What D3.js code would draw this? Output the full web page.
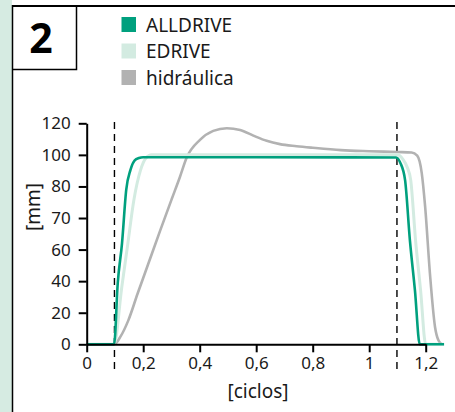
<!DOCTYPE html>
<html lang="es">
<head>
<meta charset="utf-8">
<title>Ciclos</title>
<script src="https://cdn.jsdelivr.net/npm/d3@7"></script>
<style>
    body { margin: 0; background: #fff; }
    svg { display: block; font-family: "Noto Sans", sans-serif; }
</style>
</head>
<body>
<div id="chart"></div>

<script type="text/javascript">
// values
var seriesNames = ["hidráulica", "EDRIVE", "ALLDRIVE"];

var hydX = [0, 0.097, 0.12, 0.147, 0.18, 0.218, 0.26, 0.301, 0.33, 0.354, 0.401, 0.448, 0.496, 0.543, 0.59, 0.637, 0.684, 0.743, 0.8, 0.9, 1.0, 1.1, 1.15, 1.17, 1.186, 1.198, 1.215, 1.233, 1.245, 1.257];
var hydY = [0, 0, 5, 15, 32, 51, 66, 76, 86, 98.3, 109.5, 115.2, 116.9, 115.8, 112.2, 108.9, 106.8, 105.5, 104.5, 103, 102.3, 101.8, 101.5, 99.5, 88.4, 73.6, 44.8, 11, 2.5, 0];

var edrX = [0, 0.097, 0.124, 0.145, 0.167, 0.19, 0.21, 0.23, 0.6, 1.1, 1.12, 1.135, 1.147, 1.164, 1.182, 1.2, 1.265];
var edrY = [0, 0, 36, 61.5, 75.7, 90, 98, 100, 100, 100, 97, 92, 84, 63, 34, 0, 0];

var allX = [0, 0.097, 0.11, 0.125, 0.14, 0.155, 0.17, 0.185, 0.2, 0.6, 1.095, 1.11, 1.127, 1.144, 1.162, 1.179, 1.265];
var allY = [0, 0, 39, 62, 79, 90.5, 96.5, 98, 98.5, 98.5, 98.3, 95, 84, 63, 34, 0, 0];

var xTicks = [0, 0.2, 0.4, 0.6, 0.8, 1, 1.2];
var xTickLabels = ["0", "0,2", "0,4", "0,6", "0,8", "1", "1,2"];
var yTicks = [0, 20, 40, 60, 70, 80, 100, 120];
var markers = [0.1, 1.1];
var panelLabel = "2";
</script>

<script type="text/javascript">
var width = 455, height = 412;
var colors = { "ALLDRIVE": "#00a07e", "EDRIVE": "#d3ebe1", "hidráulica": "#b2b2b2" };
var widths = { "ALLDRIVE": 2.6, "EDRIVE": 3, "hidráulica": 2.6 };

var svg = d3.select("#chart")
    .append("svg")
    .attr("width", width)
    .attr("height", height);

// frame
svg.append("rect").attr("x", 0).attr("y", 0).attr("width", 12).attr("height", height).attr("fill", "#d6ebe2");
svg.append("line").attr("x1", 12.5).attr("x2", 12.5).attr("y1", 5).attr("y2", height)
    .attr("stroke", "#000").attr("stroke-width", 1.5);
svg.append("line").attr("x1", 12).attr("x2", width).attr("y1", 6).attr("y2", 6)
    .attr("stroke", "#000").attr("stroke-width", 2);
svg.append("path").attr("d", "M12,69.5H76.5V6")
    .attr("fill", "none").attr("stroke", "#000").attr("stroke-width", 1.5);
svg.append("text").attr("x", 41).attr("y", 53).attr("text-anchor", "middle")
    .attr("font-size", 41).attr("font-weight", "bold").text(panelLabel);

// legend
var legendNames = ["ALLDRIVE", "EDRIVE", "hidráulica"];
var legend = svg.append("g").selectAll("g")
    .data(legendNames)
    .enter().append("g")
    .attr("transform", function(d, i) { return "translate(121.5," + (17 + i * 26.5) + ")"; });
legend.append("rect").attr("width", 14.5).attr("height", 15)
    .attr("fill", function(d) { return colors[d]; });
legend.append("text").attr("x", 24.5).attr("y", 14.7)
    .attr("font-size", 19).attr("fill", "#1a1a1a").text(function(d) { return d; });

// scales
var x = d3.scaleLinear().domain([0, 1.2]).range([86.7, 425.7]);
var yRange = yTicks.map(function(d, i) { return 344.3 - i * (221 / (yTicks.length - 1)); });
var y = d3.scaleLinear().domain(yTicks).range(yRange);

// dashed markers
svg.append("g").selectAll("line")
    .data(markers)
    .enter().append("line")
    .attr("x1", function(d) { return x(d) - 0.5; })
    .attr("x2", function(d) { return x(d) - 0.5; })
    .attr("y1", 122).attr("y2", 373)
    .attr("stroke", "#000").attr("stroke-width", 1.4)
    .attr("stroke-dasharray", "7,5");

// series
var series = [
    { name: "hidráulica", xs: hydX, ys: hydY },
    { name: "EDRIVE", xs: edrX, ys: edrY },
    { name: "ALLDRIVE", xs: allX, ys: allY }
];

var line = d3.line()
    .x(function(d) { return x(d[0]); })
    .y(function(d) { return y(d[1]); })
    .curve(d3.curveMonotoneX);

svg.append("g").selectAll("path")
    .data(series)
    .enter().append("path")
    .attr("fill", "none")
    .attr("stroke", function(d) { return colors[d.name]; })
    .attr("stroke-width", function(d) { return widths[d.name]; })
    .attr("stroke-linejoin", "round")
    .attr("d", function(d) { return line(d.xs.map(function(v, i) { return [v, d.ys[i]]; })); });

// axes
var xAxis = svg.append("g")
    .attr("transform", "translate(0," + y(0) + ")")
    .call(d3.axisBottom(x)
        .tickValues(xTicks)
        .tickFormat(function(d, i) { return xTickLabels[i]; })
        .tickSize(8)
        .tickSizeOuter(0)
        .tickPadding(5));

var yAxis = svg.append("g")
    .attr("transform", "translate(" + x(0) + ",0)")
    .call(d3.axisLeft(y)
        .tickValues(yTicks)
        .tickSize(8)
        .tickSizeOuter(0)
        .tickPadding(8));

[xAxis, yAxis].forEach(function(a) {
    a.select(".domain").attr("stroke-width", 2);
    a.selectAll(".tick line").attr("stroke-width", 2);
    a.selectAll(".tick text")
        .attr("font-family", "Noto Sans, sans-serif")
        .attr("font-size", 17)
        .attr("fill", "#1a1a1a");
});

// axis titles
svg.append("text")
    .attr("transform", "translate(40,207) rotate(-90)")
    .attr("text-anchor", "middle")
    .attr("font-size", 19).attr("fill", "#1a1a1a")
    .text("[mm]");

svg.append("text")
    .attr("x", 258).attr("y", 398)
    .attr("text-anchor", "middle")
    .attr("font-size", 19).attr("fill", "#1a1a1a")
    .text("[ciclos]");
</script>
</body>
</html>
